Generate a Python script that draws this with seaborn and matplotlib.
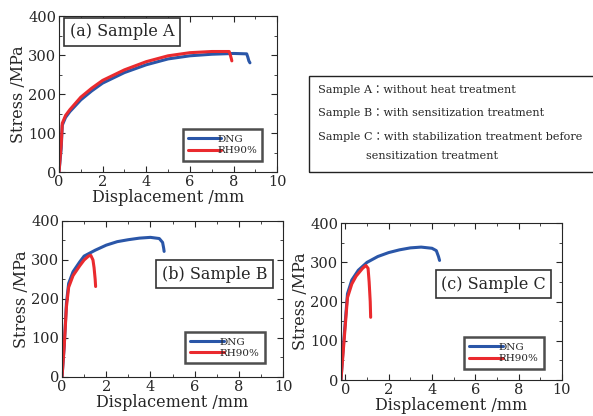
import numpy as np
import pandas as pd
import matplotlib
matplotlib.use('Agg')
import matplotlib.pyplot as plt
from matplotlib.ticker import MultipleLocator
import seaborn as sns

# curves: displacement (mm), stress (MPa)
a_dng_x = [0, 0.1, 0.15, 0.3, 0.5, 1, 1.5, 2, 3, 4, 5, 6, 7, 8, 8.6, 8.65, 8.7, 8.75]
a_dng_y = [0, 60, 120, 140, 155, 185, 208, 228, 255, 275, 290, 298, 302, 304, 303, 295, 285, 280]
a_rh_x = [0, 0.1, 0.15, 0.3, 0.5, 1, 1.5, 2, 3, 4, 5, 6, 7, 7.8, 7.85, 7.9, 7.92]
a_rh_y = [0, 70, 125, 145, 160, 192, 215, 235, 262, 283, 298, 306, 309, 309, 300, 290, 285]

b_dng_x = [0, 0.1, 0.2, 0.3, 0.5, 0.8, 1, 1.5, 2, 2.5, 3, 3.5, 4, 4.4, 4.55, 4.6, 4.62]
b_dng_y = [0, 80, 190, 240, 270, 295, 310, 325, 338, 347, 352, 356, 358, 355, 345, 330, 322]
b_rh_x = [0, 0.1, 0.2, 0.3, 0.5, 0.8, 1, 1.2, 1.3, 1.4, 1.45, 1.5, 1.52]
b_rh_y = [0, 80, 180, 230, 260, 285, 300, 310, 312, 300, 280, 250, 232]

c_dng_x = [-0.2, -0.1, 0, 0.1, 0.3, 0.6, 1, 1.5, 2, 2.5, 3, 3.5, 4, 4.2, 4.3, 4.35]
c_dng_y = [0, 80, 150, 220, 255, 280, 300, 315, 325, 332, 337, 339, 336, 330, 315, 305]
c_rh_x = [-0.2, -0.1, 0, 0.1, 0.3, 0.5, 0.8, 0.95, 1.05, 1.1, 1.15, 1.17]
c_rh_y = [0, 70, 140, 210, 245, 265, 285, 292, 285, 250, 200, 160]

panel_titles = ['(a) Sample A', '(b) Sample B', '(c) Sample C']
series_names = ['DNG', 'RH90%']
notes = ['Sample A\uff1awithout heat treatment',
         'Sample B\uff1awith sensitization treatment',
         'Sample C\uff1awith stabilization treatment before',
         'sensitization treatment']

def make_df(dx, dy, rx, ry):
    d1 = pd.DataFrame({'x': dx, 'y': dy, 'series': series_names[0]})
    d2 = pd.DataFrame({'x': rx, 'y': ry, 'series': series_names[1]})
    return pd.concat([d1, d2], ignore_index=True)

dfs = [make_df(a_dng_x, a_dng_y, a_rh_x, a_rh_y),
       make_df(b_dng_x, b_dng_y, b_rh_x, b_rh_y),
       make_df(c_dng_x, c_dng_y, c_rh_x, c_rh_y)]

sns.set_style('ticks')
plt.rcParams['font.family'] = ['DejaVu Serif', 'Noto Sans CJK JP']
palette = {'DNG': '#2a56a8', 'RH90%': '#ea2a2e'}

fig = plt.figure(figsize=(5.93, 4.16), dpi=100)
rects = [[0.0995, 0.5865, 0.368, 0.375],
         [0.1046, 0.0938, 0.3727, 0.375],
         [0.575, 0.0865, 0.3727, 0.377]]
title_pos = [(0.05, 0.9, 'left'), (0.69, 0.66, 'center'), (0.69, 0.61, 'center')]
leg_anchor = [(0.955, 0.04), (0.94, 0.055), (0.94, 0.04)]
xmins = [0, 0, -0.2]

for i, df in enumerate(dfs):
    ax = fig.add_axes(rects[i])
    sns.lineplot(data=df, x='x', y='y', hue='series', palette=palette,
                 sort=False, estimator=None, lw=2.2, ax=ax)
    ax.set_xlim(xmins[i], 10)
    ax.set_ylim(0, 400)
    ax.xaxis.set_major_locator(MultipleLocator(2))
    ax.xaxis.set_minor_locator(MultipleLocator(1))
    ax.yaxis.set_major_locator(MultipleLocator(100))
    ax.yaxis.set_minor_locator(MultipleLocator(50))
    ax.tick_params(which='both', direction='in', top=True, right=True,
                   labelsize=10.5, pad=2)
    ax.tick_params(which='major', length=4)
    ax.tick_params(which='minor', length=2)
    ax.set_xlabel('Displacement /mm', fontsize=11.5, labelpad=0)
    ax.set_ylabel('Stress /MPa', fontsize=11.5, labelpad=1)
    for s in ax.spines.values():
        s.set_linewidth(0.8)
    tx, ty, ha = title_pos[i]
    ax.text(tx, ty, panel_titles[i], transform=ax.transAxes, ha=ha, va='center',
            fontsize=11.5,
            bbox=dict(boxstyle='square,pad=0.35', fc='white', ec='#333333', lw=1.2))
    leg = ax.legend(loc='lower right', bbox_to_anchor=leg_anchor[i], fontsize=7.5,
                    frameon=True, fancybox=False, edgecolor='#222222',
                    handlelength=3.2, handletextpad=-0.4, borderpad=0.5,
                    labelspacing=0.2)
    leg.get_frame().set_linewidth(1.8)
    leg.set_title(None)

# text box describing samples
fig.patches.append(plt.Rectangle((309 / 593, 1 - 172 / 416), 290 / 593, 96 / 416,
                                 transform=fig.transFigure, fill=False,
                                 ec='#222222', lw=1.0))
note_x = [318, 318, 318, 366]
for t, xx, yy in zip(notes, note_x, [90, 113, 137, 156]):
    fig.text(xx / 593, 1 - yy / 416, t, fontsize=8.1, va='center', ha='left')

fig.savefig('out.png', dpi=100)
